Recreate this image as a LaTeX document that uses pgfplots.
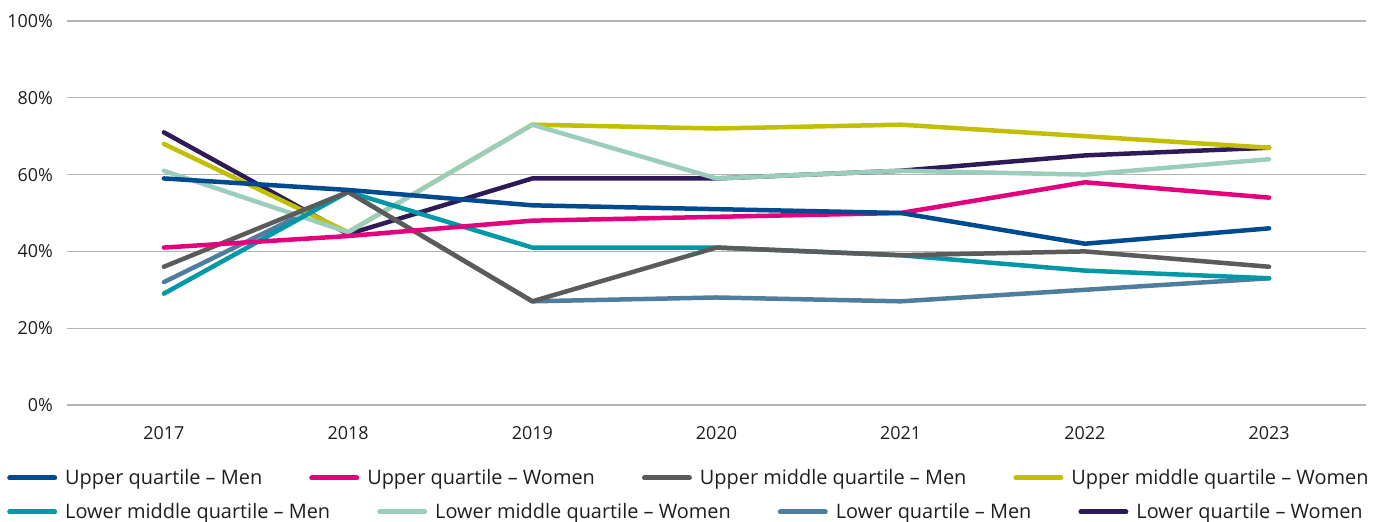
\documentclass[border=0pt]{standalone}
\usepackage{fontspec}
\setmainfont{Open Sans}
\usepackage{pgfplots}
\usepackage{pgfplotstable}
\pgfplotsset{compat=1.18}

\definecolor{cUM}{HTML}{004A8F}
\definecolor{cUW}{HTML}{E4007C}
\definecolor{cUMM}{HTML}{5B5B5B}
\definecolor{cUMW}{HTML}{C2BE00}
\definecolor{cLMM}{HTML}{0097A7}
\definecolor{cLMW}{HTML}{9BCDBD}
\definecolor{cLM}{HTML}{4E7D9E}
\definecolor{cLW}{HTML}{2F1A58}
\definecolor{gridc}{HTML}{B4B4B4}
\definecolor{txt}{HTML}{1E1E1E}

% share of each quartile, men and women (%)
\pgfplotstableread{
year UM UW UMM UMW LMM LMW LM LW
2017 59 41 36 68 29 61 32 71
2018 56 44 55.5 45 55.5 45 55.5 44.5
2019 52 48 27 73 41 73 27 59
2020 51 49 41 72 41 59 28 59
2021 50 50 39 73 39 61 27 61
2022 42 58 40 70 35 60 30 65
2023 46 54 36 67 33 64 33 67
}\datatable

\pgfplotsset{
  leg/.style={
    legend image code/.code={\draw[##1, line width=5bp, line cap=round] (0bp,0bp) -- (45bp,0bp);},
    legend columns=4,
    legend cell align=left,
    legend style={draw=none, fill=none, inner sep=0pt, anchor=west,
      font=\fontsize{20}{22}\selectfont, text=txt,
      /tikz/every odd column/.append style={column sep=6bp},
      /tikz/every even column/.append style={column sep=45bp}},
  },
  base/.style={
    at={(0,0)}, anchor=south west,
    scale only axis, width=1299bp, height=384bp,
    xmin=2016.474, xmax=2023.526, ymin=0, ymax=100,
  },
}

\begin{document}
\begin{tikzpicture}
\useasboundingbox (-67bp,-117bp) rectangle (1308bp,405bp);
\begin{axis}[base, leg,
  axis line style={draw=none},
  major tick length=0pt,
  ymajorgrids, grid style={gridc, line width=1.3bp},
  xtick={2017,2018,2019,2020,2021,2022,2023},
  xticklabels={2017,2018,2019,2020,2021,2022,2023},
  ytick={0,20,40,60,80,100},
  yticklabels={0\%,20\%,40\%,60\%,80\%,100\%},
  tick label style={font=\fontsize{18}{22}\selectfont, text=txt, inner sep=0pt},
  yticklabel style={anchor=east, xshift=-14bp},
  xticklabel style={anchor=north, yshift=-21bp},
  legend style={at={(-0.04619,-0.1901)}},
  every axis plot/.append style={line width=4.5bp, line join=round, line cap=round},
]
\addlegendimage{cUM}\addlegendentry{Upper quartile – Men}
\addlegendimage{cUW}\addlegendentry{Upper quartile – Women}
\addlegendimage{cUMM}\addlegendentry{Upper middle quartile – Men}
\addlegendimage{cUMW}\addlegendentry{Upper middle quartile – Women}

\addplot[cLW, forget plot] table[x=year, y=LW] {\datatable};
\addplot[cLM, forget plot] table[x=year, y=LM] {\datatable};
\addplot[cUMW, forget plot] table[x=year, y=UMW] {\datatable};
\addplot[cLMW, forget plot] table[x=year, y=LMW] {\datatable};
\addplot[cLMM, forget plot] table[x=year, y=LMM] {\datatable};
\addplot[cUMM, forget plot] table[x=year, y=UMM] {\datatable};
\addplot[cUW, forget plot] table[x=year, y=UW] {\datatable};
\addplot[cUM, forget plot] table[x=year, y=UM] {\datatable};
\end{axis}

\begin{axis}[base, leg, hide axis,
  legend style={at={(-0.04619,-0.2786)}},
]
\addlegendimage{cLMM}\addlegendentry{Lower middle quartile – Men}
\addlegendimage{cLMW}\addlegendentry{Lower middle quartile – Women}
\addlegendimage{cLM}\addlegendentry{Lower quartile – Men}
\addlegendimage{cLW}\addlegendentry{Lower quartile – Women}
\end{axis}
\end{tikzpicture}
\end{document}
